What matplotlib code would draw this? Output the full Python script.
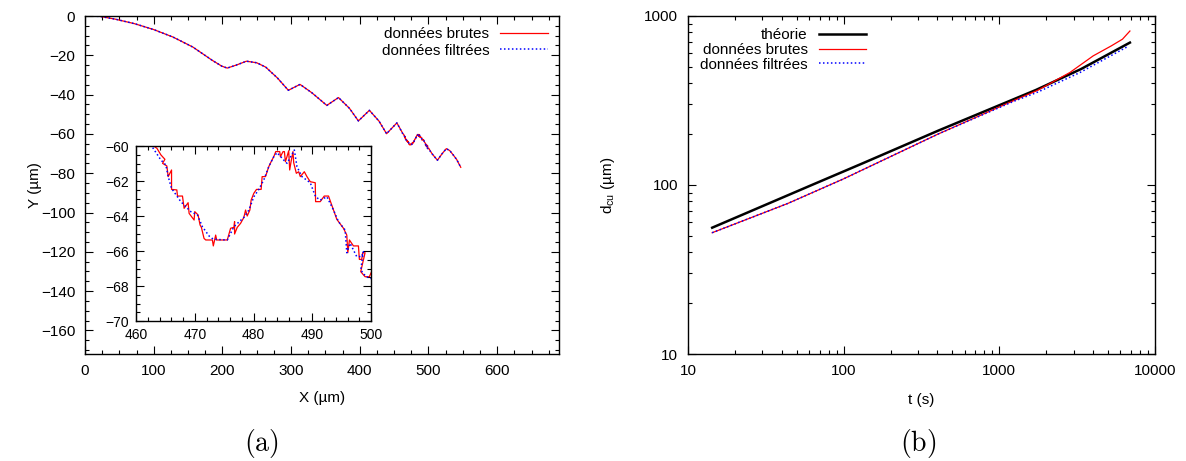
import numpy as np
import matplotlib.pyplot as plt
from matplotlib.ticker import MultipleLocator, LogLocator, NullFormatter

plt.rcParams['font.family'] = ['Liberation Sans', 'DejaVu Sans']
plt.rcParams['mathtext.default'] = 'regular'

# --- (a) trajectoire : points ---
# partie avant l'encart (X < 460)
traj_x_start = [0, 22, 44, 72, 100, 128, 157, 185, 199, 207, 220, 235, 250, 263, 280,
                296, 313, 330, 352, 369, 385, 398, 414, 428, 439, 454]
traj_y_start = [0, -0.2, -1.6, -3.9, -6.9, -10.7, -15.8, -22.5, -25.5, -26.5, -25.0, -23.0, -23.8, -26.0, -31.5,
                -37.8, -34.8, -39.0, -45.5, -41.5, -47.0, -53.4, -48.0, -53.5, -59.9, -54.4]
# partie après l'encart (X > 500)
traj_x_end = [505, 513, 520, 526, 531, 536, 541, 547]
traj_y_end = [-70.0, -73.4, -70.0, -67.5, -68.5, -70.7, -73.0, -77.0]

# détail 460-500 (données brutes)
raw_x = [463.0, 463.56, 464.24, 464.92, 464.52, 465.25, 465.48, 466.05, 466.05, 466.95,
         467.06, 467.91, 468.19, 468.87, 469.04, 469.89, 470.0, 470.57, 470.9, 471.13,
         471.58, 471.87, 473.0, 473.16, 473.56, 473.73, 475.54, 476.1, 476.67, 476.78,
         476.78, 477.23, 477.8, 478.36, 478.65, 478.93, 479.38, 479.6, 480.06, 480.51,
         481.3, 481.47, 482.04, 482.6, 483.0, 483.45, 483.79, 484.46, 484.58, 485.03,
         485.26, 485.43, 485.7, 485.99, 486.16, 486.39, 486.72, 486.84, 487.29, 487.69,
         487.97, 488.65, 489.1, 489.66, 490.51, 490.57, 491.36, 492.04, 492.77, 493.62,
         494.18, 495.31, 495.88, 496.05, 496.33, 497.01, 497.86, 498.02, 498.42, 498.59,
         498.99, 498.25, 498.99, 499.72, 500.1]
raw_y = [-60.0, -60.13, -60.51, -60.76, -60.99, -61.14, -61.75, -61.37, -62.48, -62.51,
         -62.86, -62.86, -63.56, -63.24, -63.85, -64.23, -63.75, -63.94, -64.51, -64.65,
         -65.28, -65.37, -65.37, -65.71, -65.09, -65.37, -65.37, -64.70, -64.65, -64.32,
         -65.03, -64.65, -64.42, -64.08, -63.66, -64.0, -63.66, -63.09, -62.70, -62.48,
         -62.48, -61.75, -61.75, -61.18, -60.90, -60.61, -60.32, -60.32, -60.61, -60.32,
         -60.32, -60.90, -60.61, -60.27, -61.37, -60.90, -60.32, -60.95, -61.56, -61.47,
         -61.75, -61.47, -61.75, -62.04, -62.10, -63.18, -63.18, -62.86, -62.86, -63.66,
         -64.19, -64.70, -65.09, -66.10, -65.37, -65.71, -65.71, -66.48, -66.48, -66.10,
         -66.10, -67.18, -67.47, -67.47, -67.18]

# détail 460-500 (données filtrées)
filt_x = [462.66, 464.24, 465.09, 465.48, 466.05, 467.63, 469.32, 470.45, 471.3, 472.43,
          473.16, 475.54, 476.67, 478.36, 479.21, 480.06, 480.9, 481.75, 482.6, 483.45,
          484.01, 485.14, 485.71, 486.95, 487.4, 488.25, 489.66, 490.57, 491.36, 492.49,
          493.62, 494.46, 495.6, 495.88, 496.44, 497.57, 498.42, 498.7, 498.25, 499.15, 500.0]
filt_y = [-60.0, -60.8, -61.09, -61.75, -62.42, -63.18, -63.75, -63.94, -64.61, -65.14,
          -65.33, -65.37, -64.61, -64.08, -63.66, -62.9, -62.48, -61.94, -61.18, -60.61,
          -60.38, -60.8, -60.99, -60.23, -61.18, -61.75, -62.1, -62.9, -63.09, -62.9,
          -63.66, -64.32, -64.8, -66.1, -65.56, -66.32, -66.32, -66.04, -67.09, -67.47, -67.56]

# --- (b) distance parcourue vs temps ---
t_theo = [14.3, 61.3, 134, 405, 1718, 3342, 6900]
d_theo = [55.9, 99.3, 135, 209.7, 365, 485, 696]
t_raw = [14.3, 43.8, 100, 405, 1230, 1770, 2838, 4009, 5230, 6180, 6900]
d_raw = [52.2, 77.8, 108.8, 200.4, 315, 364, 463, 581, 665, 729, 815]
t_filt = [14.3, 43.8, 100, 405, 1230, 1770, 3296, 6670]
d_filt = [52.2, 77.8, 108.8, 200.4, 312, 355, 463, 659]

lbl_raw = 'données brutes'
lbl_filt = 'données filtrées'
lbl_theo = 'théorie'

red = '#ff0000'
blue = '#0000ff'
dots = (0, (1, 1.6))

# séries complètes pour (a)
full_raw_x = np.concatenate([traj_x_start, raw_x, traj_x_end])
full_raw_y = np.concatenate([traj_y_start, raw_y, traj_y_end])
full_filt_x = np.concatenate([traj_x_start, filt_x, traj_x_end])
full_filt_y = np.concatenate([traj_y_start, filt_y, traj_y_end])


def style_axes(ax, size=11):
    ax.tick_params(which='both', direction='in', top=True, right=True, labelsize=size, pad=7, width=0.8)
    ax.tick_params(which='major', length=6)
    ax.tick_params(which='minor', length=3)
    for s in ax.spines.values():
        s.set_linewidth(1.0)


W, H = 1186, 461
fig = plt.figure(figsize=(W / 100, H / 100), dpi=100)

# panneau (a)
ax1 = fig.add_axes([85 / W, (H - 354) / H, 474 / W, 338 / H])
ax1.plot(full_raw_x, full_raw_y, color=red, lw=0.9, label=lbl_raw)
ax1.plot(full_filt_x, full_filt_y, color=blue, lw=1.1, ls=dots, label=lbl_filt)
ax1.set_xlim(0, 690)
ax1.set_ylim(-172, 0)
ax1.xaxis.set_major_locator(MultipleLocator(100))
ax1.xaxis.set_minor_locator(MultipleLocator(25))
ax1.yaxis.set_major_locator(MultipleLocator(20))
ax1.yaxis.set_minor_locator(MultipleLocator(5))
style_axes(ax1)
ax1.set_xlabel('X (µm)', fontsize=11)
ax1.set_ylabel('Y (µm)', fontsize=11)
ax1.xaxis.set_label_coords(0.5, -0.11)
ax1.yaxis.set_label_coords(-0.091, 0.5)
ax1.legend(loc='upper right', frameon=False, markerfirst=False, fontsize=11,
           handlelength=3.1, handletextpad=0.7, labelspacing=0.15, borderaxespad=0.35)

# encart
axi = fig.add_axes([136 / W, (H - 321) / H, 235 / W, 175 / H])
axi.plot(full_raw_x, full_raw_y, color=red, lw=0.9)
axi.plot(full_filt_x, full_filt_y, color=blue, lw=1.1, ls=dots)
axi.set_xlim(460, 500)
axi.set_ylim(-70, -60)
axi.xaxis.set_major_locator(MultipleLocator(10))
axi.xaxis.set_minor_locator(MultipleLocator(2))
axi.yaxis.set_major_locator(MultipleLocator(2))
axi.yaxis.set_minor_locator(MultipleLocator(0.5))
style_axes(axi, size=10)
axi.tick_params(pad=5)

# panneau (b)
ax2 = fig.add_axes([688 / W, (H - 354) / H, 467 / W, 338 / H])
ax2.plot(t_theo, d_theo, color='black', lw=1.8, label=lbl_theo)
ax2.plot(t_raw, d_raw, color=red, lw=0.9, label=lbl_raw)
ax2.plot(t_filt, d_filt, color=blue, lw=1.1, ls=dots, label=lbl_filt)
ax2.set_xscale('log')
ax2.set_yscale('log')
ax2.set_xlim(10, 10000)
ax2.set_ylim(10, 1000)
for axis in (ax2.xaxis, ax2.yaxis):
    axis.set_major_locator(LogLocator(base=10))
    axis.set_minor_locator(LogLocator(base=10, subs=np.arange(2, 10)))
    axis.set_minor_formatter(NullFormatter())
ax2.xaxis.set_major_formatter(plt.FuncFormatter(lambda v, p: '%d' % v))
ax2.yaxis.set_major_formatter(plt.FuncFormatter(lambda v, p: '%d' % v))
style_axes(ax2)
ax2.set_xlabel('t (s)', fontsize=11)
ax2.set_ylabel(r'd$_{cu}$ (µm)', fontsize=11)
ax2.xaxis.set_label_coords(0.5, -0.115)
ax2.yaxis.set_label_coords(-0.152, 0.5)
ax2.legend(loc='upper left', frameon=False, markerfirst=False, fontsize=11,
           handlelength=3.1, handletextpad=0.7, labelspacing=0.05, borderaxespad=0.4)

# étiquettes (a) et (b)
fig.text(261 / W, 1 - 443 / H, r'$\mathrm{(a)}$', math_fontfamily='cm', fontsize=20, ha='center', va='center')
fig.text(918 / W, 1 - 443 / H, r'$\mathrm{(b)}$', math_fontfamily='cm', fontsize=20, ha='center', va='center')

fig.savefig('out.png', dpi=100)
